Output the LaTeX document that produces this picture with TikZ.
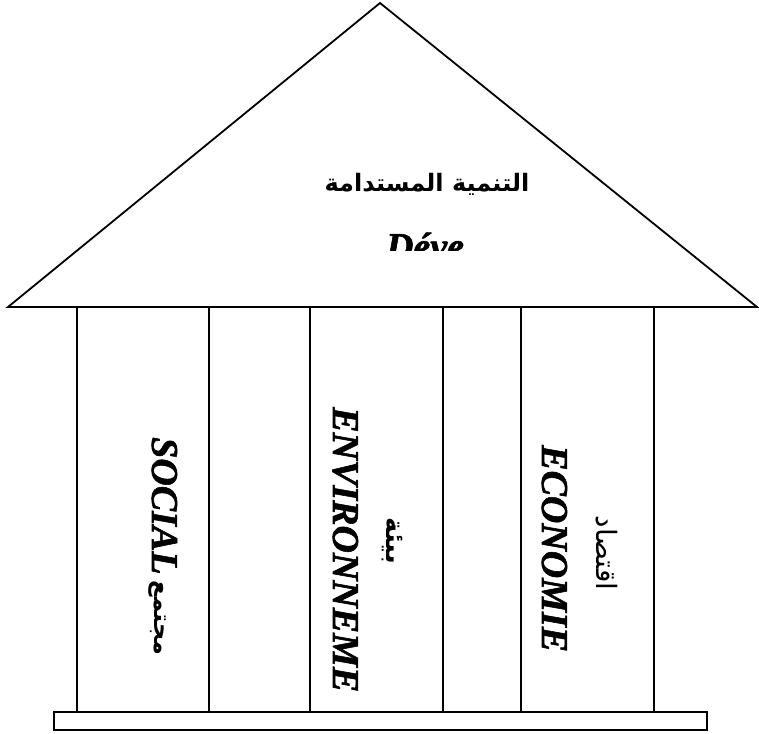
\documentclass[tikz,border=0pt]{standalone}
\usepackage{fontspec}
\setmainfont{Liberation Serif}
\newfontfamily\latinheavy{Liberation Serif}[BoldItalicFeatures={FakeBold=1.5}]
\newfontfamily\arabicfont[Script=Arabic]{DejaVu Sans}
\TeXXeTstate=1
\tikzset{
  wall/.style={line width=1.8pt, draw=black},
  plinth/.style={line width=2.4pt, draw=black},
  latinlabel/.style={inner sep=0pt, font=\latinheavy\fontsize{38}{42}\selectfont\bfseries\itshape},
  arlabel/.style={inner sep=0pt},
}
\begin{document}
\begin{tikzpicture}[x=1pt,y=-1pt]
\useasboundingbox (0,0) rectangle (759,733);
% roof
\coordinate (roofL) at (8,307);
\coordinate (apex) at (380,3);
\coordinate (roofR) at (757,307);
\draw[wall, line join=miter] (roofL) -- (apex) -- (roofR) -- cycle;
% pillars
\foreach \x/\n in {77/a,209/b,310/c,443/d,521/e,654/f}{
  \coordinate (top\n) at (\x,307);
  \coordinate (bot\n) at (\x,712);
  \draw[wall] (top\n) -- (bot\n);
}
% plinth
\draw[plinth] (54,712) rectangle (707,730);
% roof title
\node[arlabel] (title) at (427,184) {\arabicfont\bfseries\fontsize{24}{28}\selectfont\beginR التنمية المستدامة\endR};
\begin{scope}
  \clip (0,0) rectangle (759,250);
  \node[latinlabel, anchor=base] (deve) at (425,259) {Déve};
\end{scope}
% social pillar
\node[latinlabel, rotate=-90, anchor=base west] (social) at (152,437) {SOCIAL};
\node[arlabel, rotate=-90] (socialar) at (157,618) {\arabicfont\bfseries\fontsize{24}{28}\selectfont\beginR مجتمع\endR};
% environment pillar
\node[latinlabel, rotate=-90, anchor=base west] (env) at (333,407) {ENVIRONNEME};
\node[arlabel, rotate=-90] (envar) at (392,541) {\arabicfont\bfseries\fontsize{26}{30}\selectfont\beginR بيئة\endR};
% economy pillar
\node[latinlabel, rotate=-90, anchor=base west] (eco) at (542,445) {ECONOMIE};
\node[arlabel, rotate=-90] (ecoar) at (607,553) {\arabicfont\fontsize{28}{32}\selectfont\beginR اقتصاد\endR};
\end{tikzpicture}
\end{document}
